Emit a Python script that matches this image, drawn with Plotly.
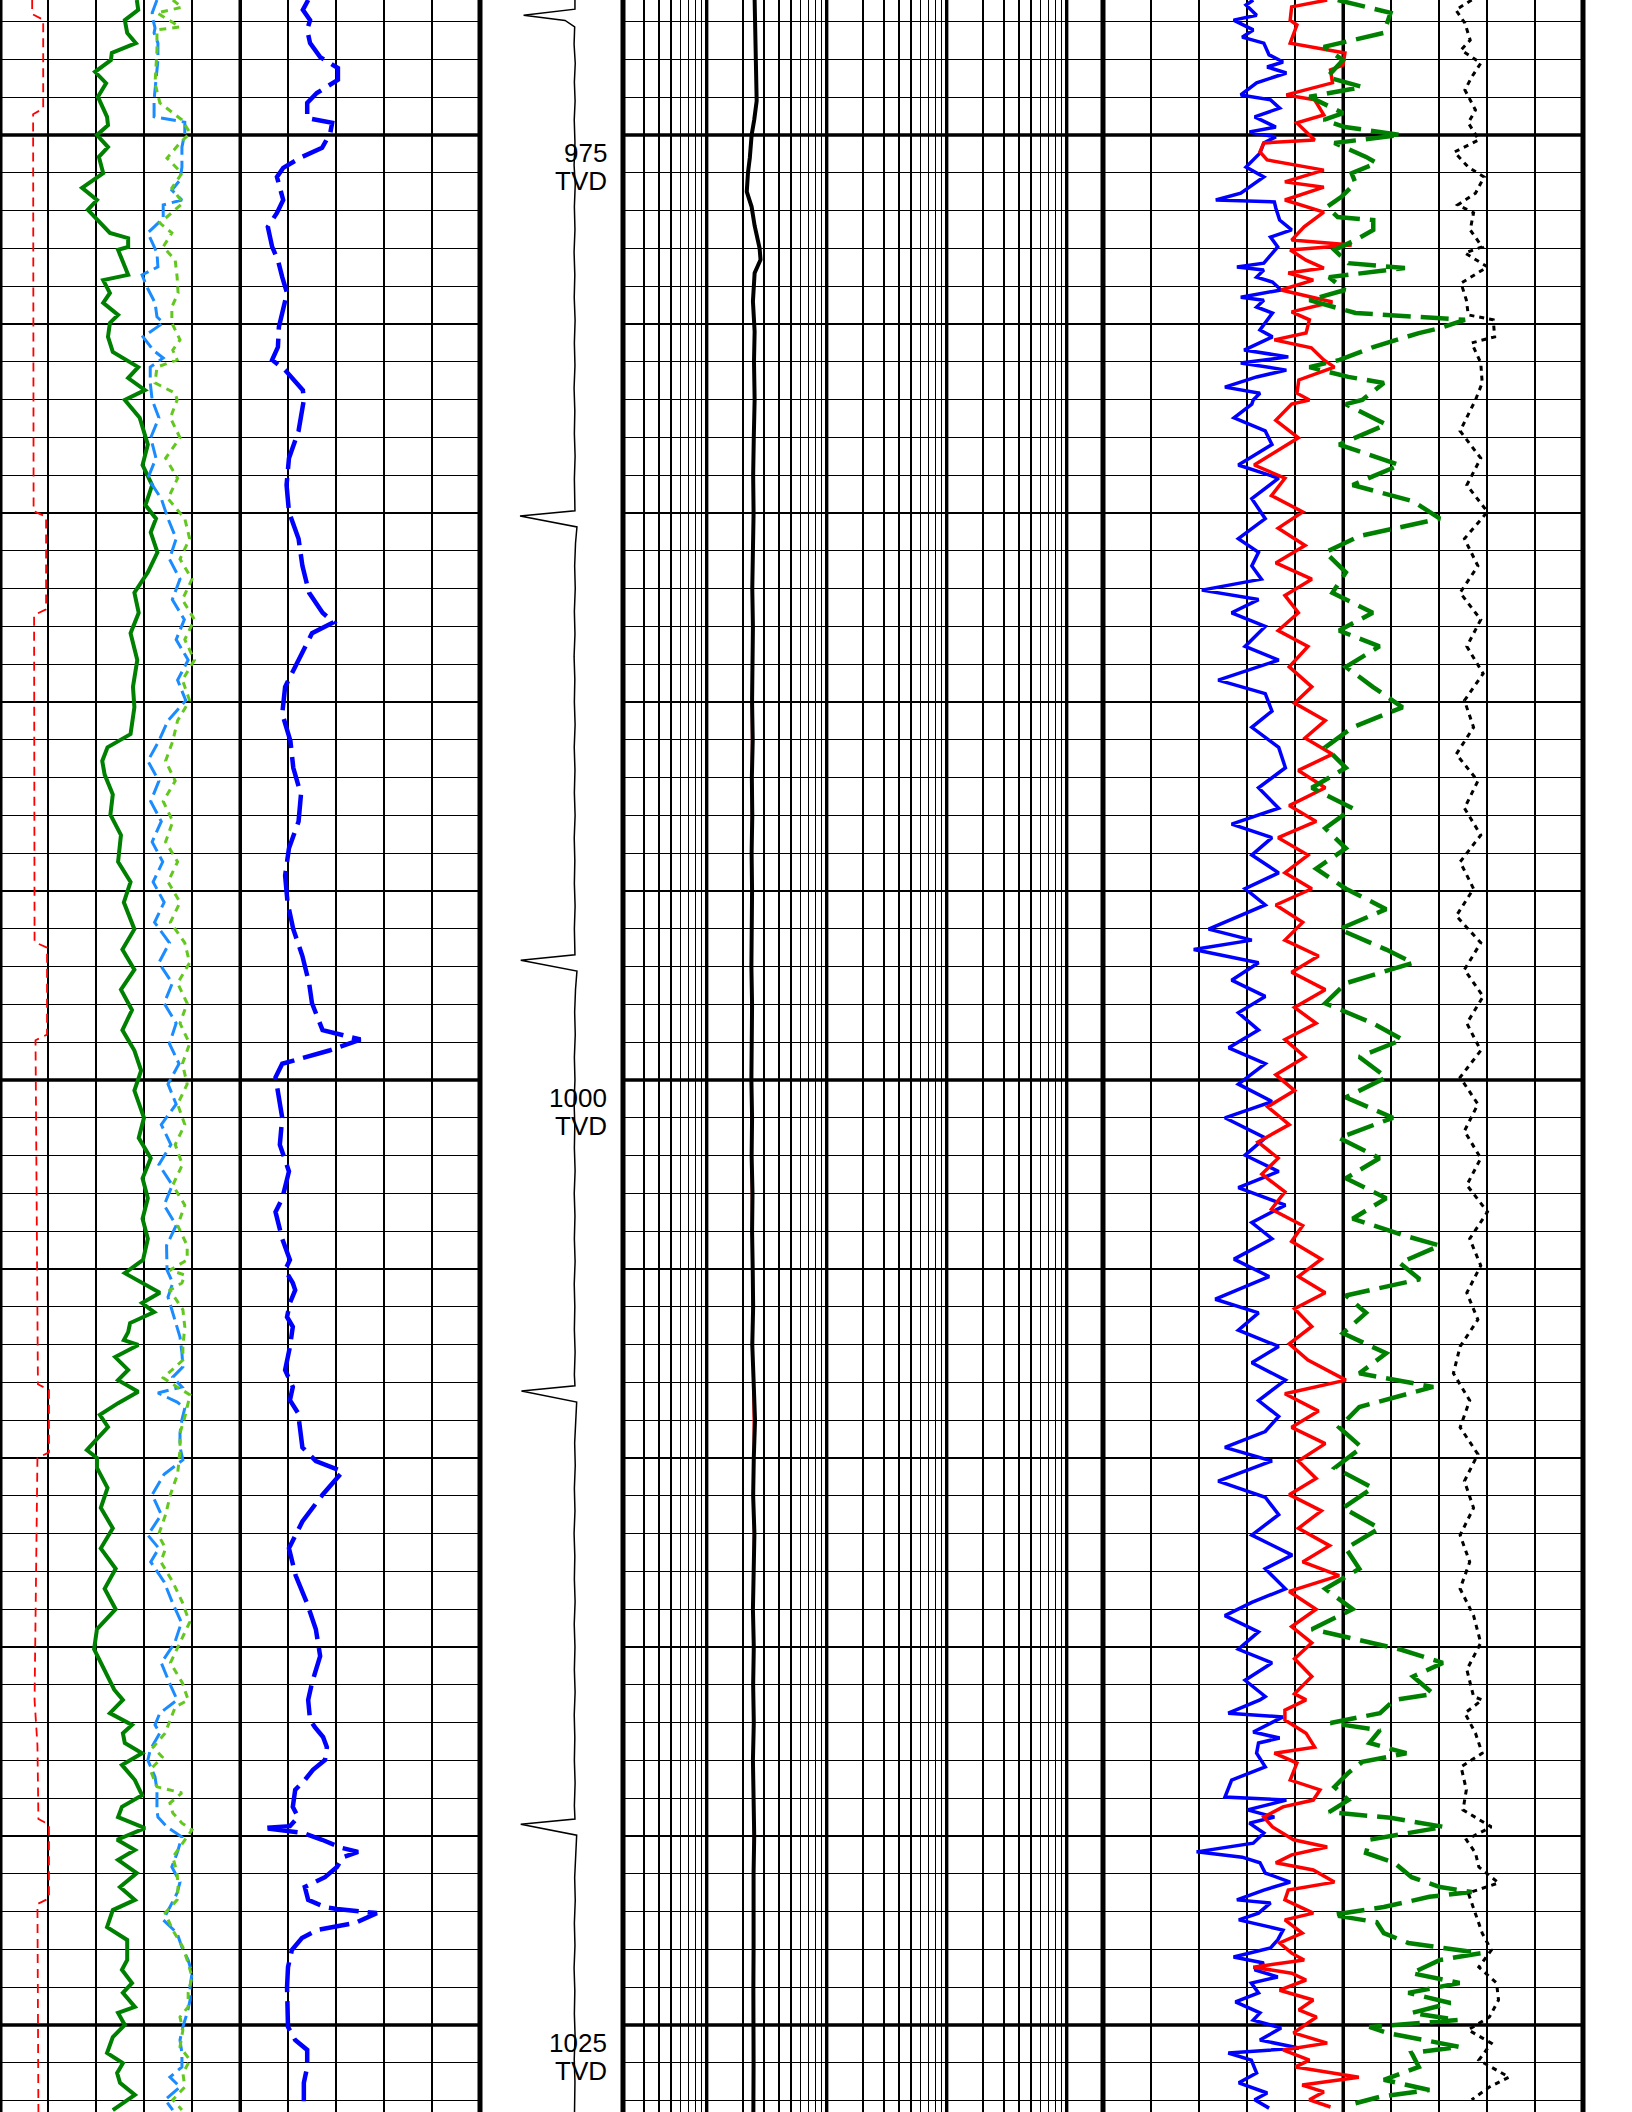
import math
import plotly.graph_objects as go

# ---------------- DATA (depth ft, value) ----------------
# Track 1 values are in chart-grid units (0-10 divisions, no scale printed)
cali_red = [(971.43, 0.67), (971.80, 0.67), (971.95, 0.90), (974.30, 0.90), (974.45, 0.69), (980.0, 0.70),
            (984.95, 0.70), (985.10, 0.96), (987.55, 0.96), (987.70, 0.71), (992.0, 0.72), (996.35, 0.72),
            (996.50, 0.98), (998.80, 0.98), (998.95, 0.74), (1004.0, 0.76), (1008.05, 0.79), (1008.20, 1.02),
            (1009.85, 1.02), (1010.0, 0.78), (1014.0, 0.75), (1016.4, 0.72), (1017.6, 0.78), (1019.55, 0.80),
            (1019.70, 1.02), (1021.65, 1.02), (1021.80, 0.78), (1027.3, 0.80)]

gr_green = [(971.43, 2.85), (971.69, 2.88), (971.96, 2.60), (972.30, 2.65), (972.57, 2.83), (972.83, 2.33),
            (973.02, 2.31), (973.33, 1.98), (973.63, 2.21), (973.99, 2.04), (974.52, 2.23), (974.74, 2.25),
            (975.00, 2.02), (975.32, 2.25), (975.58, 2.06), (976.01, 2.15), (976.40, 1.71), (976.72, 2.02),
            (976.98, 1.83), (977.59, 2.29), (977.73, 2.67), (977.96, 2.67), (978.04, 2.46), (978.70, 2.67),
            (978.84, 2.15), (979.18, 2.29), (979.44, 2.15), (979.76, 2.46), (979.97, 2.29), (980.34, 2.25),
            (980.74, 2.35), (980.95, 2.65), (981.14, 2.88), (981.43, 2.67), (981.75, 3.02), (982.01, 2.60),
            (982.48, 2.91), (983.19, 3.08), (983.73, 2.97), (984.26, 3.17), (984.79, 3.03), (985.15, 3.25),
            (985.51, 3.14), (986.04, 3.28), (986.57, 3.08), (987.11, 2.80), (987.64, 2.89), (988.18, 2.72),
            (988.89, 2.86), (989.60, 2.77), (990.14, 2.80), (990.85, 2.72), (991.20, 2.24), (991.56, 2.13),
            (991.92, 2.18), (992.45, 2.35), (992.98, 2.30), (993.52, 2.52), (994.23, 2.46), (994.76, 2.72),
            (995.30, 2.58), (996.01, 2.80), (996.55, 2.55), (997.08, 2.80), (997.61, 2.52), (998.15, 2.75),
            (998.68, 2.55), (999.22, 2.80), (999.75, 2.94), (1000.28, 2.80), (1001.00, 3.00), (1001.53, 2.89),
            (1002.07, 3.14), (1002.60, 2.97), (1003.13, 3.08), (1003.67, 2.97), (1004.20, 3.08),
            (1004.76, 2.98), (1005.11, 2.60), (1005.63, 3.33), (1005.90, 2.96), (1006.14, 3.21), (1006.43, 2.71),
            (1006.67, 2.67), (1006.88, 2.58), (1007.01, 2.88), (1007.33, 2.40), (1007.67, 2.67), (1007.94, 2.46),
            (1008.25, 2.88), (1008.55, 2.46), (1008.86, 2.08), (1009.18, 2.25), (1009.47, 2.04), (1009.79, 1.81),
            (1010.00, 2.02), (1010.26, 2.02), (1010.79, 2.24), (1011.32, 2.10), (1011.86, 2.35), (1012.39, 2.10),
            (1012.93, 2.41), (1013.46, 2.18), (1014.00, 2.41), (1014.53, 2.02), (1015.06, 1.96), (1015.60, 2.18),
            (1016.13, 2.38), (1016.40, 2.56), (1016.75, 2.29), (1017.06, 2.75), (1017.28, 2.56), (1017.54, 2.60),
            (1017.81, 2.96), (1018.12, 2.54), (1018.52, 2.81), (1018.92, 2.96), (1019.23, 2.54), (1019.50, 2.46),
            (1019.79, 3.02), (1020.10, 2.44), (1020.37, 2.81), (1020.63, 2.46), (1020.98, 2.85), (1021.35, 2.50),
            (1021.69, 2.81), (1021.96, 2.35), (1022.41, 2.23), (1022.75, 2.65), (1023.28, 2.65), (1023.54, 2.54),
            (1023.89, 2.75), (1024.15, 2.56), (1024.52, 2.81), (1024.68, 2.46), (1025.00, 2.60), (1025.32, 2.35),
            (1025.74, 2.23), (1026.01, 2.56), (1026.27, 2.44), (1026.53, 2.50), (1026.85, 2.81), (1027.25, 2.35)]

lb_dash = [(971.43, 3.27), (971.77, 3.17), (971.96, 3.19), (972.17, 3.23), (972.30, 3.21), (972.57, 3.29),
           (973.02, 3.29), (973.54, 3.25), (974.07, 3.21), (974.52, 3.21), (974.66, 3.85), (974.95, 3.85),
           (975.32, 3.79), (975.85, 3.79), (976.19, 3.75), (976.46, 3.58), (976.72, 3.79), (976.85, 3.40),
           (977.20, 3.40), (977.59, 3.08), (978.12, 3.27), (978.49, 3.29), (978.70, 2.96), (979.02, 3.06),
           (979.44, 3.23), (979.81, 3.27), (979.97, 3.40), (980.34, 2.98), (980.69, 3.19), (980.90, 3.40),
           (981.14, 3.13), (981.56, 3.13), (982.01, 3.17),
           (982.48, 3.31), (983.01, 3.14), (983.55, 3.25), (984.08, 3.08), (984.62, 3.36), (985.15, 3.50),
           (985.68, 3.67), (986.22, 3.53), (986.75, 3.75), (987.29, 3.59), (987.82, 3.84), (988.35, 3.67),
           (988.89, 3.92), (989.42, 3.70), (989.96, 3.87), (990.49, 3.50), (991.03, 3.31), (991.56, 3.08),
           (992.09, 3.31), (992.63, 3.14), (993.16, 3.36), (993.70, 3.17), (994.23, 3.39), (994.76, 3.19),
           (995.30, 3.42), (995.83, 3.22), (996.37, 3.53), (996.90, 3.31), (997.44, 3.59), (997.97, 3.42),
           (998.50, 3.67), (999.04, 3.53), (999.57, 3.73), (1000.11, 3.50), (1000.64, 3.67), (1001.18, 3.36),
           (1001.71, 3.56), (1002.24, 3.31), (1002.78, 3.59), (1003.31, 3.42), (1003.85, 3.67), (1004.38, 3.47),
           (1005.03, 3.48), (1005.37, 3.60), (1005.74, 3.50), (1006.08, 3.58), (1006.43, 3.65), (1006.80, 3.75),
           (1007.22, 3.79), (1007.59, 3.81), (1007.86, 3.60), (1008.12, 3.79), (1008.28, 3.29), (1008.52, 3.69),
           (1008.68, 3.85), (1008.99, 3.79), (1009.34, 3.75), (1009.71, 3.75), (1010.05, 3.81),
           (1010.43, 3.42), (1010.97, 3.17), (1011.50, 3.36), (1012.04, 3.08), (1012.39, 3.31), (1012.75, 3.14),
           (1013.28, 3.42), (1013.82, 3.59), (1014.35, 3.78), (1014.89, 3.64), (1015.42, 3.36), (1015.95, 3.53),
           (1016.40, 3.69), (1016.75, 3.33), (1017.06, 3.23), (1017.28, 3.33), (1017.72, 3.13), (1017.99, 3.08),
           (1018.44, 3.23), (1018.78, 3.27), (1019.31, 3.27), (1019.50, 3.29), (1019.76, 3.48), (1020.03, 3.79),
           (1020.45, 3.69), (1020.82, 3.58), (1021.22, 3.75), (1021.51, 3.69), (1021.88, 3.54), (1022.22, 3.40),
           (1022.57, 3.69), (1022.94, 3.79), (1023.28, 3.92), (1023.63, 4.00), (1024.00, 3.96), (1024.34, 3.96),
           (1024.68, 3.90), (1025.05, 3.81), (1025.40, 3.75), (1025.74, 3.79), (1026.11, 3.79), (1026.38, 3.54),
           (1026.64, 3.75), (1026.98, 3.44), (1027.25, 3.60)]

yg_dot = [(971.43, 3.60), (971.62, 3.79), (971.77, 3.27), (972.04, 3.60), (972.14, 3.75), (972.22, 3.27),
          (972.75, 3.27), (973.63, 3.23), (974.15, 3.33), (974.60, 3.79), (974.95, 3.96), (975.21, 3.75),
          (975.61, 3.48), (976.01, 3.79), (976.40, 3.58), (976.80, 3.81), (977.06, 3.58), (977.33, 3.33),
          (977.59, 3.58), (977.96, 3.40), (978.31, 3.65), (978.76, 3.69), (979.18, 3.71), (979.55, 3.58),
          (979.97, 3.58), (980.42, 3.75), (980.69, 3.60), (980.95, 3.69), (981.14, 3.27), (981.56, 3.23),
          (981.83, 3.65), (982.01, 3.69),
          (982.48, 3.55), (983.01, 3.75), (983.55, 3.45), (984.08, 3.70), (984.62, 3.50), (985.15, 3.85),
          (985.68, 3.95), (986.22, 3.75), (986.75, 4.00), (987.29, 3.80), (987.82, 4.05), (988.35, 3.85),
          (988.89, 4.05), (989.42, 3.80), (989.96, 3.95), (990.49, 3.70), (991.03, 3.60), (991.56, 3.45),
          (992.09, 3.65), (992.63, 3.40), (993.16, 3.60), (993.70, 3.45), (994.23, 3.70), (994.76, 3.50),
          (995.30, 3.75), (995.83, 3.55), (996.37, 3.85), (996.90, 3.95), (997.44, 3.70), (997.97, 3.90),
          (998.50, 3.75), (999.04, 3.95), (999.57, 3.80), (1000.11, 3.90), (1000.64, 3.70), (1001.18, 3.85),
          (1001.71, 3.65), (1002.24, 3.80), (1002.78, 3.60), (1003.31, 3.85), (1003.85, 3.70), (1004.38, 3.90),
          (1004.76, 3.90), (1005.03, 3.54), (1005.16, 3.85), (1005.37, 3.79), (1005.56, 3.54), (1006.08, 3.81),
          (1006.53, 3.85), (1007.06, 3.81), (1007.41, 3.81), (1007.88, 3.40), (1008.12, 3.69), (1008.33, 3.96),
          (1008.65, 3.90), (1008.92, 3.85), (1009.34, 3.75), (1009.79, 3.75),
          (1010.43, 3.70), (1010.97, 3.55), (1011.50, 3.45), (1012.04, 3.30), (1012.39, 3.45), (1012.75, 3.35),
          (1013.28, 3.60), (1013.82, 3.80), (1014.35, 3.95), (1014.89, 3.75), (1015.42, 3.55), (1015.95, 3.80),
          (1016.40, 3.92), (1016.59, 3.65), (1016.93, 3.54), (1017.28, 3.44), (1017.65, 3.19), (1017.91, 3.38),
          (1018.25, 3.13), (1018.70, 3.27), (1018.86, 3.79), (1019.13, 3.54), (1019.39, 3.60), (1019.66, 3.79),
          (1019.84, 4.00), (1020.19, 3.81), (1020.56, 3.60), (1020.98, 3.69), (1021.35, 3.71), (1021.69, 3.69),
          (1022.04, 3.44), (1022.49, 3.60), (1022.94, 3.81), (1023.36, 3.92), (1023.73, 4.00), (1024.15, 3.92),
          (1024.52, 3.92), (1024.79, 3.75), (1025.13, 3.81), (1025.58, 3.75), (1025.93, 3.96), (1026.27, 3.81),
          (1026.64, 3.85), (1026.98, 3.60), (1027.25, 3.79)]

sp_blue = [(971.43, 6.42), (971.69, 6.31), (971.96, 6.46), (972.22, 6.40), (972.57, 6.46), (972.94, 6.67),
           (973.23, 7.04), (973.54, 7.04), (973.89, 6.60), (974.15, 6.40), (974.55, 6.40), (974.68, 6.92),
           (974.95, 6.88), (975.34, 6.71), (975.58, 6.29), (975.87, 5.90), (976.11, 5.77), (976.72, 5.90),
           (977.06, 5.77), (977.43, 5.58), (977.96, 5.67), (978.31, 5.79), (978.76, 5.88), (979.18, 5.98),
           (979.71, 5.88), (980.08, 5.81), (980.61, 5.79), (980.95, 5.67), (981.22, 5.94), (981.56, 6.19),
           (981.75, 6.31), (982.01, 6.33), (982.83, 6.22), (983.55, 6.02), (984.26, 5.97), (984.97, 6.02),
           (985.68, 6.22), (986.40, 6.30), (987.11, 6.44), (987.64, 6.72), (987.89, 6.95), (988.18, 6.50),
           (988.89, 6.22), (989.60, 5.94), (990.31, 5.88), (991.03, 6.05), (991.74, 6.11), (992.45, 6.27),
           (993.16, 6.22), (993.87, 6.02), (994.59, 5.94), (995.30, 5.99), (996.01, 6.11), (996.72, 6.30),
           (997.44, 6.44), (997.97, 6.50), (998.68, 6.72), (998.93, 7.51), (999.22, 6.86), (999.57, 5.88),
           (999.93, 5.74), (1001.00, 5.88), (1001.71, 5.83), (1002.42, 6.02), (1003.13, 5.88), (1003.49, 5.74),
           (1004.20, 5.88), (1004.76, 6.04), (1005.03, 5.94), (1005.37, 6.10), (1005.56, 6.15), (1005.90, 6.04),
           (1006.27, 5.98), (1006.53, 6.10), (1007.06, 6.04), (1007.41, 5.98), (1007.67, 5.94), (1008.12, 6.10),
           (1008.47, 6.04), (1008.81, 6.21), (1009.72, 6.30), (1010.08, 6.58), (1010.36, 7.14), (1010.97, 6.72),
           (1011.68, 6.30), (1012.39, 6.02), (1013.11, 6.16), (1013.82, 6.39), (1014.53, 6.58), (1015.24, 6.67),
           (1015.95, 6.50), (1016.40, 6.42), (1016.93, 6.46), (1017.12, 6.56), (1017.38, 6.73), (1017.65, 6.81),
           (1017.99, 6.77), (1018.25, 6.52), (1018.52, 6.35), (1018.78, 6.15), (1019.23, 6.10), (1019.50, 6.21),
           (1019.74, 6.04), (1019.79, 5.48), (1019.87, 6.04), (1019.92, 6.31), (1020.10, 6.71), (1020.32, 7.13),
           (1020.42, 7.46), (1020.56, 7.15), (1020.82, 7.02), (1021.09, 6.77), (1021.35, 6.35), (1021.69, 6.42),
           (1021.88, 6.77), (1021.93, 7.02), (1022.04, 7.85), (1022.30, 7.40), (1022.49, 6.60), (1022.70, 6.29),
           (1023.02, 6.08), (1023.47, 6.00), (1024.00, 5.98), (1024.52, 6.00), (1025.05, 6.00), (1025.40, 6.15),
           (1025.66, 6.40), (1026.11, 6.40), (1026.53, 6.33), (1027.25, 6.33)]

# Track 2 (logarithmic, 0.2 - 2000)
res_deep_black = [(971.43, 2.50), (972.5, 2.55), (973.5, 2.58), (974.1, 2.60), (974.6, 2.48), (975.0, 2.36),
                  (975.6, 2.28), (976.0, 2.20), (976.5, 2.15), (976.9, 2.36), (977.4, 2.50), (978.0, 2.75),
                  (978.3, 2.80), (978.65, 2.50), (979.4, 2.42), (980.2, 2.50), (981.0, 2.47), (982.0, 2.50),
                  (983.0, 2.46), (984.0, 2.43), (985.0, 2.45), (986.0, 2.41), (987.0, 2.39), (988.0, 2.42),
                  (989.0, 2.40), (990.0, 2.38), (991.0, 2.41), (992.0, 2.37), (993.0, 2.39), (994.0, 2.36),
                  (995.0, 2.38), (996.0, 2.36), (997.0, 2.35), (998.0, 2.38), (999.0, 2.36), (1000.0, 2.35),
                  (1001.0, 2.38), (1002.0, 2.36), (1003.0, 2.40), (1004.0, 2.38), (1005.0, 2.41), (1006.0, 2.43),
                  (1007.0, 2.39), (1008.0, 2.46), (1009.0, 2.52), (1010.0, 2.46), (1011.0, 2.43), (1012.0, 2.49),
                  (1013.0, 2.45), (1014.0, 2.42), (1015.0, 2.46), (1016.0, 2.43), (1017.0, 2.46), (1018.0, 2.42),
                  (1019.0, 2.45), (1020.0, 2.48), (1021.0, 2.45), (1022.0, 2.43), (1023.0, 2.45), (1024.0, 2.44),
                  (1025.0, 2.46), (1026.0, 2.45), (1027.3, 2.44)]
res_shallow_red = [(971.43, 2.48), (972.5, 2.52), (973.5, 2.56), (974.1, 2.58), (974.6, 2.46), (975.0, 2.33),
                   (975.6, 2.25), (976.0, 2.18), (976.5, 2.12), (976.9, 2.33), (977.4, 2.48), (978.0, 2.72),
                   (978.3, 2.78), (978.65, 2.48), (979.4, 2.40), (980.2, 2.47), (982.0, 2.47), (985.0, 2.42),
                   (990.0, 2.35), (995.0, 2.35), (1000.0, 2.31), (1002.0, 2.33), (1005.0, 2.38), (1008.0, 2.44),
                   (1010.0, 2.44), (1015.0, 2.44), (1020.0, 2.45), (1025.0, 2.44), (1027.3, 2.42)]

# Depth track marker curve (0-10 across the depth track)
marker_curve = [(971.43, 6.64), (971.67, 6.64), (971.83, 3.05), (971.97, 5.95), (972.14, 6.62), (972.6, 6.58),
                (973.1, 6.66), (973.6, 6.60), (974.1, 6.65), (974.6, 6.59), (975.2, 6.64), (975.8, 6.58),
                (976.3, 6.66), (976.9, 6.60), (977.5, 6.64), (978.1, 6.58), (978.7, 6.63), (979.3, 6.59),
                (979.9, 6.65), (980.5, 6.60), (981.1, 6.64), (981.7, 6.58), (982.3, 6.63), (982.9, 6.60),
                (983.5, 6.65), (984.1, 6.60), (984.94, 6.64), (985.08, 2.80), (985.37, 6.78), (985.8, 6.68),
                (986.4, 6.62), (987.0, 6.66), (987.6, 6.60), (988.2, 6.64), (988.8, 6.58), (989.4, 6.63),
                (990.0, 6.60), (990.6, 6.65), (991.2, 6.59), (991.8, 6.64), (992.4, 6.60), (993.0, 6.65),
                (993.6, 6.59), (994.2, 6.63), (994.8, 6.60), (995.4, 6.65), (996.0, 6.60), (996.69, 6.64),
                (996.83, 2.85), (997.12, 6.78), (997.6, 6.68), (998.2, 6.62), (998.8, 6.66), (999.4, 6.60),
                (1000.0, 6.64), (1000.6, 6.58), (1001.2, 6.63), (1001.8, 6.60), (1002.4, 6.65), (1003.0, 6.59),
                (1003.6, 6.64), (1004.2, 6.60), (1004.8, 6.65), (1005.4, 6.59), (1006.0, 6.63), (1006.6, 6.60),
                (1007.2, 6.65), (1007.8, 6.60), (1008.09, 6.64), (1008.23, 2.90), (1008.52, 6.76), (1009.0, 6.68),
                (1009.6, 6.62), (1010.2, 6.66), (1010.8, 6.60), (1011.4, 6.64), (1012.0, 6.58), (1012.6, 6.63),
                (1013.2, 6.60), (1013.8, 6.65), (1014.4, 6.59), (1015.0, 6.64), (1015.6, 6.60), (1016.2, 6.65),
                (1016.8, 6.59), (1017.4, 6.63), (1018.0, 6.60), (1018.6, 6.65), (1019.2, 6.60), (1019.55, 6.64),
                (1019.69, 2.85), (1019.98, 6.76), (1020.5, 6.68), (1021.1, 6.62), (1021.7, 6.66), (1022.3, 6.60),
                (1022.9, 6.64), (1023.5, 6.58), (1024.1, 6.63), (1024.7, 6.60), (1025.3, 6.65), (1025.9, 6.59),
                (1026.5, 6.64), (1027.3, 6.61)]

# Track 3 values in grid units (0-10 divisions)
t3_blue = [(971.43, 3.13), (971.56, 2.98), (971.83, 3.20), (971.96, 2.72), (972.22, 3.13), (972.41, 2.90),
           (972.57, 3.35), (972.88, 3.46), (973.07, 3.75), (973.20, 3.42), (973.36, 3.82), (973.62, 3.20),
           (973.94, 2.87), (974.07, 3.49), (974.29, 3.68), (974.52, 3.16), (974.79, 3.60), (974.92, 3.05),
           (975.05, 3.60), (975.21, 3.35), (975.48, 3.27), (975.85, 2.98), (976.11, 3.35), (976.54, 2.87),
           (976.72, 2.35), (976.77, 3.57), (976.93, 3.60), (977.25, 3.68), (977.51, 3.93), (977.70, 3.49),
           (977.96, 3.64), (978.12, 3.53), (978.39, 3.35), (978.49, 2.79), (978.57, 3.35), (978.76, 3.20),
           (978.89, 3.53), (979.10, 3.71), (979.29, 2.87), (979.37, 3.35), (979.55, 3.20), (979.71, 3.53),
           (980.16, 3.27), (980.34, 3.53), (980.69, 2.94), (980.87, 3.86), (981.03, 2.87), (981.22, 3.82),
           (981.40, 3.20), (981.67, 2.54), (981.83, 3.27), (982.01, 3.13),
           (982.12, 3.10), (982.48, 2.73), (982.83, 3.38), (983.19, 3.52), (983.73, 2.82), (984.08, 3.66),
           (984.62, 3.10), (985.15, 3.38), (985.68, 2.82), (986.04, 3.24), (986.40, 3.10), (986.75, 3.30),
           (987.04, 2.06), (987.29, 3.24), (987.64, 2.68), (988.00, 3.38), (988.53, 2.96), (988.89, 3.66),
           (989.42, 2.40), (989.78, 3.38), (990.24, 3.52), (990.67, 3.10), (991.20, 3.66), (991.74, 3.80),
           (992.27, 3.24), (992.81, 3.66), (993.23, 2.68), (993.59, 3.52), (994.05, 3.10), (994.52, 3.66),
           (994.94, 2.96), (995.37, 3.38), (996.01, 2.20), (996.30, 3.10), (996.55, 1.89), (996.90, 3.24),
           (997.36, 2.68), (997.79, 3.38), (998.22, 2.82), (998.68, 3.24), (999.15, 2.62), (999.57, 3.38),
           (1000.11, 2.82), (1000.57, 3.52), (1001.00, 2.54), (1001.53, 3.38), (1001.99, 2.96), (1002.42, 3.66),
           (1002.85, 2.82), (1003.31, 3.80), (1003.77, 3.10), (1004.20, 3.52), (1004.74, 2.73), (1005.20, 3.46),
           (1005.80, 2.34), (1006.16, 3.24), (1006.62, 2.82), (1007.05, 3.66), (1007.48, 3.10), (1007.94, 3.80),
           (1008.48, 3.24), (1008.90, 3.66), (1009.30, 3.38), (1009.72, 2.54), (1010.08, 3.52), (1010.61, 2.40),
           (1011.04, 3.38), (1011.50, 3.66), (1012.04, 3.10), (1012.57, 3.94), (1012.93, 3.38), (1013.46, 3.80),
           (1013.82, 3.10), (1014.17, 2.54), (1014.60, 3.24), (1015.06, 2.82), (1015.42, 3.52), (1015.88, 2.96),
           (1016.31, 3.38),
           (1016.40, 3.27), (1016.75, 2.61), (1016.85, 3.75), (1017.25, 3.13), (1017.41, 3.68), (1017.54, 3.24),
           (1017.81, 3.20), (1018.17, 3.38), (1018.52, 2.68), (1018.97, 2.54), (1019.05, 3.82), (1019.31, 3.01),
           (1019.50, 3.57), (1019.66, 3.05), (1019.92, 3.35), (1020.19, 3.13), (1020.42, 1.95), (1020.56, 2.90),
           (1020.71, 3.27), (1020.98, 3.38), (1021.22, 3.90), (1021.43, 3.35), (1021.69, 2.79), (1021.77, 3.49),
           (1022.04, 3.24), (1022.22, 2.83), (1022.49, 3.75), (1022.75, 3.64), (1022.96, 3.49), (1023.20, 2.72),
           (1023.36, 3.35), (1023.54, 3.16), (1023.73, 3.64), (1023.89, 3.09), (1024.15, 3.24), (1024.39, 2.76),
           (1024.68, 3.27), (1024.87, 3.13), (1025.08, 3.71), (1025.40, 3.27), (1025.61, 4.08), (1025.74, 2.61),
           (1025.93, 3.09), (1026.27, 3.20), (1026.53, 2.83), (1026.80, 3.42), (1026.98, 3.16), (1027.20, 3.46)]

t3_red = [(971.43, 4.67), (971.61, 3.93), (971.96, 3.90), (972.09, 4.04), (972.57, 3.90), (972.75, 4.67),
          (972.83, 5.04), (973.15, 5.00), (973.28, 4.74), (973.62, 4.78), (973.94, 3.82), (974.07, 4.41),
          (974.47, 4.60), (974.68, 4.04), (975.13, 4.41), (975.21, 3.35), (975.45, 3.27), (975.66, 3.42),
          (975.93, 4.60), (976.24, 3.79), (976.38, 4.60), (976.72, 3.79), (977.04, 4.60), (977.43, 4.19),
          (977.78, 3.93), (977.91, 5.18), (978.04, 3.90), (978.31, 4.23), (978.52, 4.60), (978.65, 3.86),
          (978.84, 4.38), (979.10, 3.71), (979.42, 4.78), (979.68, 3.93), (979.89, 4.30), (980.24, 4.23),
          (980.42, 3.57), (980.63, 4.34), (980.95, 4.60), (981.14, 4.82), (981.48, 4.08), (981.83, 4.04),
          (982.01, 4.30),
          (982.12, 3.93), (982.55, 3.60), (983.01, 4.07), (983.73, 3.15), (984.08, 3.79), (984.54, 3.51),
          (984.97, 4.16), (985.40, 3.65), (985.86, 4.21), (986.32, 3.60), (986.75, 4.35), (987.18, 3.79),
          (987.64, 4.07), (988.11, 3.65), (988.53, 4.27), (989.07, 3.88), (989.60, 4.35), (990.03, 3.99),
          (990.49, 4.63), (990.95, 4.21), (991.38, 4.78), (991.81, 4.07), (992.27, 4.63), (992.74, 3.88),
          (993.16, 4.44), (993.59, 3.65), (994.05, 4.27), (994.52, 3.79), (994.94, 4.35), (995.37, 3.60),
          (995.83, 4.16), (996.30, 3.79), (996.72, 4.49), (997.15, 3.93), (997.61, 4.63), (998.08, 3.99),
          (998.50, 4.44), (998.93, 3.79), (999.39, 4.21), (999.86, 3.60), (1000.28, 3.99), (1000.71, 3.43),
          (1001.18, 3.88), (1001.64, 3.23), (1002.07, 3.65), (1002.49, 3.31), (1002.96, 3.79), (1003.42, 3.51),
          (1003.85, 4.16), (1004.27, 3.93), (1004.74, 4.55), (1005.20, 4.07), (1005.63, 4.63), (1006.05, 3.99),
          (1006.52, 4.35), (1006.98, 3.88), (1007.41, 4.27), (1007.94, 5.06), (1008.30, 3.79), (1008.76, 4.49),
          (1009.19, 3.93), (1009.62, 4.63), (1010.08, 4.07), (1010.54, 4.44), (1010.97, 3.88), (1011.40, 4.55),
          (1011.86, 4.07), (1012.32, 4.72), (1012.75, 4.16), (1013.11, 4.92), (1013.53, 3.88), (1014.00, 4.44),
          (1014.46, 3.93), (1014.89, 4.35), (1015.31, 3.99), (1015.78, 4.35), (1016.24, 3.99),
          (1016.40, 4.23), (1016.67, 3.79), (1016.93, 3.79), (1017.28, 4.23), (1017.65, 4.41), (1017.81, 3.57),
          (1018.07, 4.04), (1018.52, 3.90), (1018.78, 4.52), (1019.05, 4.38), (1019.23, 3.75), (1019.50, 3.35),
          (1019.76, 3.53), (1020.10, 3.97), (1020.29, 4.67), (1020.50, 3.93), (1020.71, 3.60), (1020.90, 4.38),
          (1021.22, 4.82), (1021.43, 3.86), (1021.69, 3.79), (1022.04, 4.38), (1022.22, 3.79), (1022.57, 4.15),
          (1022.83, 3.68), (1023.10, 3.93), (1023.28, 4.19), (1023.47, 3.13), (1023.63, 3.93), (1023.81, 4.23),
          (1024.08, 3.68), (1024.34, 4.38), (1024.60, 4.08), (1024.79, 4.45), (1025.05, 4.15), (1025.21, 3.97),
          (1025.48, 4.67), (1025.66, 3.75), (1025.93, 4.30), (1026.11, 4.01), (1026.38, 5.33), (1026.59, 4.15),
          (1026.77, 4.60), (1026.98, 4.30), (1027.17, 4.74)]

t3_green = [(971.43, 4.89), (971.77, 5.99), (972.30, 5.85), (972.67, 4.60), (973.02, 5.00), (973.47, 4.67),
            (973.73, 5.40), (973.99, 4.30), (974.42, 5.00), (974.60, 4.60), (974.79, 5.04), (975.00, 6.21),
            (975.21, 4.82), (975.58, 5.48), (975.74, 5.70), (976.01, 5.18), (976.27, 5.26), (976.64, 4.96),
            (976.90, 4.67), (977.17, 4.89), (977.25, 5.63), (977.51, 5.63), (977.78, 5.26), (978.04, 4.82),
            (978.39, 5.11), (978.52, 6.29), (978.76, 4.71), (979.10, 5.04), (979.37, 4.30), (979.71, 5.26),
            (979.89, 7.54), (980.11, 7.02), (980.24, 6.58), (980.61, 5.63), (980.95, 4.93), (981.14, 4.30),
            (981.40, 5.11), (981.56, 5.85), (982.01, 5.40),
            (982.12, 5.06), (982.66, 5.90), (983.19, 4.92), (983.73, 6.18), (984.26, 5.20), (984.69, 6.46),
            (985.15, 7.02), (985.61, 5.34), (986.04, 4.63), (986.57, 5.06), (987.11, 4.78), (987.64, 5.62),
            (988.11, 4.92), (988.53, 5.76), (989.07, 5.06), (989.60, 5.62), (990.14, 6.24), (990.67, 5.20),
            (991.20, 4.63), (991.74, 5.06), (992.27, 4.35), (992.81, 5.20), (993.34, 4.63), (993.87, 5.06),
            (994.41, 4.44), (994.94, 5.06), (995.48, 5.90), (996.01, 4.92), (996.55, 5.90), (996.90, 6.46),
            (997.44, 5.06), (997.97, 4.63), (998.50, 5.62), (998.93, 6.24), (999.39, 5.34), (999.93, 5.90),
            (1000.46, 5.06), (1001.00, 6.04), (1001.53, 4.92), (1002.07, 5.76), (1002.60, 5.06), (1003.13, 5.90),
            (1003.67, 5.20), (1004.13, 6.32), (1004.38, 7.02), (1004.84, 6.18), (1005.27, 6.60), (1005.70, 5.06),
            (1006.16, 5.48), (1006.70, 5.00), (1007.23, 5.90), (1007.76, 5.34), (1008.12, 6.88), (1008.65, 5.34),
            (1009.19, 4.92), (1009.72, 5.39), (1010.26, 4.83), (1010.79, 5.62), (1011.32, 5.00), (1011.86, 5.76),
            (1012.39, 5.06), (1012.93, 5.34), (1013.46, 4.63), (1014.00, 5.20), (1014.53, 4.35), (1015.06, 6.18),
            (1015.42, 7.08), (1015.78, 6.46), (1016.24, 6.88),
            (1016.40, 6.07), (1016.75, 5.77), (1017.01, 4.74), (1017.20, 5.77), (1017.54, 5.55), (1017.81, 6.32),
            (1018.04, 5.40), (1018.33, 5.11), (1018.70, 4.82), (1019.05, 5.11), (1019.37, 4.71), (1019.52, 5.99),
            (1019.76, 7.10), (1020.10, 5.55), (1020.45, 5.48), (1020.71, 6.07), (1021.09, 6.43), (1021.35, 7.02),
            (1021.48, 7.68), (1021.61, 6.80), (1021.88, 5.85), (1022.09, 4.78), (1022.28, 5.70), (1022.57, 5.85),
            (1022.83, 6.36), (1023.10, 7.87), (1023.28, 7.02), (1023.63, 6.43), (1023.89, 7.43), (1024.15, 6.36),
            (1024.42, 7.24), (1024.68, 6.43), (1024.87, 7.39), (1025.05, 5.55), (1025.21, 5.92), (1025.58, 7.43),
            (1025.74, 6.43), (1026.11, 6.58), (1026.45, 5.85), (1026.72, 6.80), (1026.90, 5.77), (1027.07, 5.26)]

t3_black = [(971.43, 7.68), (971.69, 7.35), (972.04, 7.54), (972.49, 7.65), (972.75, 7.46), (973.10, 7.87),
            (973.47, 7.68), (973.81, 7.54), (974.34, 7.76), (974.68, 7.61), (975.13, 7.83), (975.45, 7.32),
            (975.85, 7.61), (976.11, 7.94), (976.54, 7.76), (976.85, 7.39), (977.06, 7.72), (977.51, 7.65),
            (977.96, 7.90), (978.12, 7.54), (978.49, 8.01), (978.92, 7.46), (979.37, 7.57), (979.76, 7.61),
            (979.89, 8.13), (980.34, 8.16), (980.50, 7.68), (981.03, 7.87), (981.56, 7.90), (982.01, 7.76),
            (982.83, 7.44), (983.55, 7.87), (984.26, 7.58), (984.97, 8.01), (985.68, 7.53), (986.40, 7.81),
            (987.11, 7.44), (987.82, 7.87), (988.53, 7.58), (989.25, 7.92), (989.96, 7.53), (990.67, 7.72),
            (991.38, 7.36), (992.09, 7.81), (992.81, 7.53), (993.52, 7.87), (994.23, 7.44), (994.94, 7.72),
            (995.66, 7.36), (996.37, 7.87), (997.08, 7.53), (997.79, 7.92), (998.50, 7.58), (999.22, 7.87),
            (999.93, 7.44), (1000.64, 7.81), (1001.35, 7.53), (1002.07, 7.87), (1002.78, 7.58), (1003.49, 8.01),
            (1004.20, 7.64), (1004.91, 7.87), (1005.63, 7.58), (1006.34, 7.81), (1007.05, 7.44), (1007.76, 7.30),
            (1008.48, 7.64), (1009.19, 7.44), (1009.90, 7.81), (1010.61, 7.53), (1011.32, 7.72), (1012.04, 7.44),
            (1012.75, 7.64), (1013.46, 7.44), (1014.17, 7.72), (1014.89, 7.87), (1015.60, 7.58), (1016.31, 7.72),
            (1016.40, 7.90), (1016.75, 7.54), (1017.28, 7.76), (1017.81, 7.90), (1018.17, 7.46), (1018.78, 7.57),
            (1019.31, 7.50), (1019.76, 8.09), (1020.10, 7.57), (1020.45, 7.76), (1020.82, 7.83), (1021.24, 8.24),
            (1021.51, 7.61), (1022.04, 7.76), (1022.57, 7.90), (1023.02, 8.09), (1023.47, 7.83), (1023.89, 8.20),
            (1024.34, 8.24), (1024.79, 8.05), (1025.13, 7.61), (1025.48, 8.09), (1025.93, 7.83), (1026.38, 8.46),
            (1026.64, 8.05), (1026.98, 7.68)]

depth_labels = [975, 1000, 1025]
log_decades = [1, 10, 100, 1000]
log_min, log_max = 0.2, 2000
depth_top, depth_bottom = 971.4286, 1027.302

# ---------------- LAYOUT ----------------
W, H = 1632, 2112
T1, DEP, T2, T3 = (0, 480), (480, 623), (623, 1103), (1103, 1583)


def dom(edges):
    return [edges[0] / W, edges[1] / W]


fig = go.Figure()


def add(curve, xa, ya, color, width, dash=None):
    d = [p[0] for p in curve]
    v = [p[1] for p in curve]
    fig.add_trace(go.Scatter(x=v, y=d, xaxis=xa, yaxis=ya, mode='lines', hoverinfo='skip',
                             line=dict(color=color, width=width, dash=dash), showlegend=False))


# Track 1
add(cali_red, 'x', 'y', '#FF0000', 1.8, '9px,6px')
add(gr_green, 'x', 'y', '#008000', 4)
add(lb_dash, 'x', 'y', '#1A8CFF', 3, '15px,6px')
add(yg_dot, 'x', 'y', '#62C81E', 3, '7px,6px')
add(sp_blue, 'x', 'y', '#0000FF', 4.5, '30px,9px')
# Track 2
add(res_shallow_red, 'x2', 'y', '#FF0000', 1.2)
add(res_deep_black, 'x2', 'y', '#000000', 4)
# Track 3
add(t3_blue, 'x3', 'y', '#0000FF', 3.5)
add(t3_red, 'x3', 'y', '#FF0000', 3.5)
add(t3_green, 'x3', 'y', '#008000', 4.5, '28px,10px')
add(t3_black, 'x3', 'y', '#000000', 3, '5px,5px')
# Depth track
add(marker_curve, 'x4', 'y2', '#000000', 1.5)

hide = dict(showticklabels=False, ticks='', zeroline=False, showline=False, fixedrange=True)
lin_track = dict(range=[0, 10], tick0=0, dtick=5, showgrid=True, gridcolor='black', gridwidth=3,
                 minor=dict(tick0=0, dtick=1, showgrid=True, gridcolor='black', gridwidth=1.5), anchor='y', **hide)
lo, hi = math.log10(log_min), math.log10(log_max)

fig.update_layout(
    width=W, height=H, margin=dict(l=0, r=0, t=0, b=0),
    paper_bgcolor='white', plot_bgcolor='white', showlegend=False,
    xaxis=dict(domain=dom(T1), **lin_track),
    xaxis3=dict(domain=dom(T3), **lin_track),
    xaxis2=dict(domain=dom(T2), type='log', range=[lo, hi], tick0=0, dtick=1,
                showgrid=True, gridcolor='black', gridwidth=3,
                minor=dict(dtick='D1', showgrid=True, gridcolor='black', gridwidth=1.5), anchor='y', **hide),
    xaxis4=dict(domain=dom(DEP), range=[0, 10], showgrid=False, anchor='y2', **hide),
    yaxis=dict(domain=[0, 1], range=[depth_bottom, depth_top], tick0=0, dtick=5, showgrid=True,
               gridcolor='black', gridwidth=2,
               minor=dict(tick0=0, dtick=1, showgrid=True, gridcolor='black', gridwidth=1), anchor='x', **hide),
    yaxis2=dict(domain=[0, 1], range=[depth_bottom, depth_top], showgrid=False, anchor='x4', **hide),
)

shapes = []
# heavy depth lines every 25 ft in the curve tracks
for xr in ('x', 'x2', 'x3'):
    for d in depth_labels:
        shapes.append(dict(type='line', xref=xr + ' domain', x0=0, x1=1, yref='y', y0=d, y1=d,
                           line=dict(color='black', width=3.5), layer='below'))
# heavier centre lines of the linear tracks
for xr in ('x', 'x3'):
    shapes.append(dict(type='line', xref=xr + ' domain', x0=0.5, x1=0.5, yref='paper', y0=0, y1=1,
                       line=dict(color='black', width=3), layer='below'))
# heavier decade lines of the logarithmic track
for v in log_decades:
    f = (math.log10(v) - lo) / (hi - lo)
    shapes.append(dict(type='line', xref='x2 domain', x0=f, x1=f, yref='paper', y0=0, y1=1,
                       line=dict(color='black', width=3), layer='below'))
# track borders
for e in (T1[0], T1[1], T2[0], T2[1], T3[1]):
    shapes.append(dict(type='line', xref='paper', x0=e / W, x1=e / W, yref='paper', y0=0, y1=1,
                       line=dict(color='black', width=5)))
fig.update_layout(shapes=shapes)

LABEL_X = 607.5 / W
font = dict(family='Liberation Sans, Arial, sans-serif', size=26, color='black')
for d in depth_labels:
    fig.add_annotation(x=LABEL_X, xref='paper', xanchor='right', y=d, yref='y', yanchor='top',
                       text=str(d), showarrow=False, font=font, yshift=-2, borderpad=0)
    fig.add_annotation(x=LABEL_X, xref='paper', xanchor='right', y=d, yref='y', yanchor='top',
                       text='TVD', showarrow=False, font=font, yshift=-30, borderpad=0)

fig.write_html("out.html", config={'displayModeBar': False, 'staticPlot': True},
               post_script="document.body.style.margin='0px';")
